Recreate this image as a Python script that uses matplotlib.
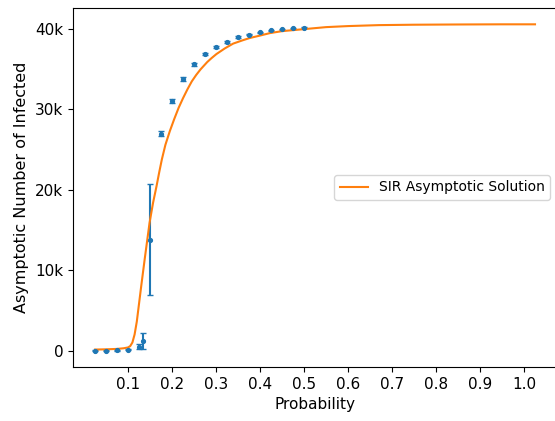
import matplotlib.pyplot as plt
from matplotlib.ticker import FuncFormatter

# simulated asymptotic infected (mean +/- error), in thousands
sim_p = [0.025, 0.05, 0.075, 0.1, 0.125, 0.133, 0.15, 0.175, 0.2, 0.225, 0.25,
         0.275, 0.3, 0.325, 0.35, 0.375, 0.4, 0.425, 0.45, 0.475, 0.5]
sim_k = [0.0, 0.0, 0.05, 0.1, 0.45, 1.2, 13.8, 27.0, 31.1, 33.8, 35.6,
         36.9, 37.8, 38.4, 39.0, 39.3, 39.6, 39.85, 40.0, 40.1, 40.2]
sim_err_k = [0.02, 0.02, 0.05, 0.05, 0.3, 1.0, 6.9, 0.3, 0.25, 0.2, 0.15,
             0.15, 0.12, 0.1, 0.1, 0.08, 0.08, 0.08, 0.06, 0.06, 0.05]

# SIR asymptotic solution, in thousands
sir_p = [0.025, 0.05, 0.075, 0.09, 0.1, 0.105, 0.11, 0.115, 0.12, 0.125, 0.13,
         0.138, 0.149, 0.157, 0.165, 0.171, 0.177, 0.185, 0.195, 0.205, 0.215,
         0.225, 0.235, 0.245, 0.255, 0.265, 0.28, 0.29, 0.301, 0.32, 0.339,
         0.36, 0.377, 0.4, 0.422, 0.45, 0.49, 0.55, 0.6, 0.67, 0.75, 0.85,
         0.95, 1.025]
sir_k = [0.12, 0.15, 0.2, 0.28, 0.38, 0.55, 1.0, 2.0, 3.6, 5.8, 8.0,
         11.4, 15.9, 18.4, 20.5, 22.2, 23.8, 25.6, 27.3, 28.8, 30.2,
         31.4, 32.5, 33.5, 34.3, 35.0, 35.9, 36.4, 36.9, 37.6, 38.2,
         38.6, 38.9, 39.2, 39.5, 39.75, 39.95, 40.25, 40.38, 40.5, 40.55, 40.58,
         40.6, 40.6]

x_ticks = [0.1, 0.2, 0.3, 0.4, 0.5, 0.6, 0.7, 0.8, 0.9, 1.0]

sim_y = [v * 1000 for v in sim_k]
sim_err = [v * 1000 for v in sim_err_k]
sir_y = [v * 1000 for v in sir_k]

fig = plt.figure(figsize=(5.55, 4.21), dpi=100)
ax = fig.add_axes([73 / 555, 54 / 421, 484 / 555, 359 / 421])

ax.errorbar(sim_p, sim_y, yerr=sim_err, fmt='.', color='C0',
            capsize=2, markersize=5.5, elinewidth=1.5)
ax.plot(sir_p, sir_y, color='C1', label='SIR Asymptotic Solution')

ax.set_xticks(x_ticks)
ax.set_xticklabels([f'{t:.1f}' for t in x_ticks])
ax.yaxis.set_major_formatter(FuncFormatter(
    lambda v, _: '0' if v == 0 else f'{int(v / 1000)}k'))
ax.set_yticks([0, 10000, 20000, 30000, 40000])
ax.tick_params(labelsize=11)

ax.set_xlabel('Probability', fontsize=11)
ax.set_ylabel('Asymptotic Number of Infected', fontsize=11.5)
ax.legend(loc='center right', fontsize=10)

fig.savefig('out.png', dpi=100)
